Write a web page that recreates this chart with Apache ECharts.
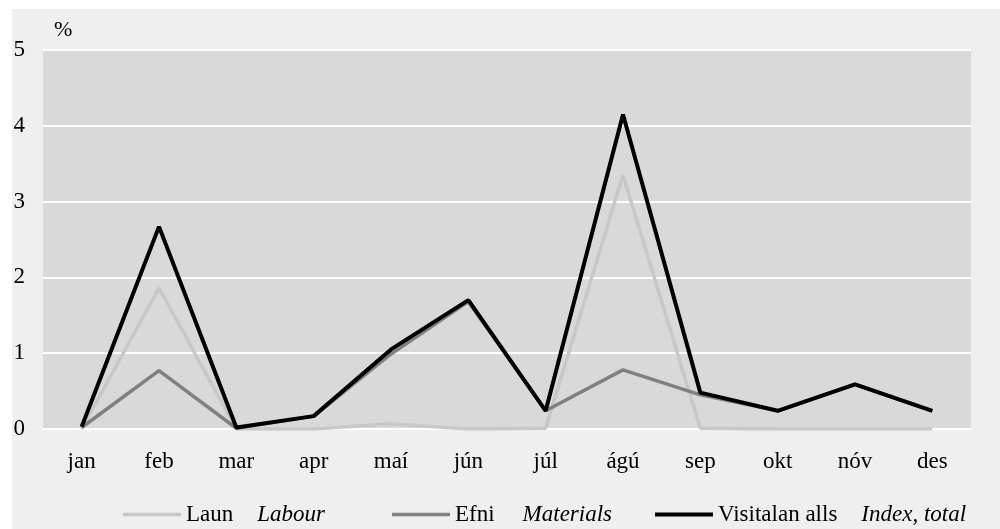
<!DOCTYPE html>
<html>
<head>
<meta charset="utf-8">
<script src="https://cdn.jsdelivr.net/npm/echarts@6/dist/echarts.min.js"></script>
<style>
html,body{margin:0;padding:0;background:#ffffff;}
#chart{position:absolute;left:12px;top:9px;width:988px;height:520px;}
</style>
</head>
<body>
<div id="chart"></div>
<script>
const months = ['jan','feb','mar','apr','maí','jún','júl','ágú','sep','okt','nóv','des'];
const labour = [0.0, 1.86, 0.0, 0.0, 0.07, 0.0, 0.01, 3.35, 0.01, 0.0, 0.0, 0.0];
const materials = [0.02, 0.77, 0.01, 0.17, 0.99, 1.68, 0.24, 0.78, 0.45, 0.24, 0.59, 0.24];
const total = [0.03, 2.67, 0.02, 0.17, 1.05, 1.70, 0.24, 4.15, 0.48, 0.24, 0.59, 0.24];
const yTicks = [0, 1, 2, 3, 4, 5];
const seriesNames = ['Laun', 'Efni', 'Visitalan alls'];
const seriesEnglish = ['Labour', 'Materials', 'Index, total'];
const seriesColors = ['#c8c8c8', '#808080', '#000000'];
const unitLabel = '%';

const FONT = '"Liberation Serif", "DejaVu Serif", serif';
const FS = 23;
const chart = echarts.init(document.getElementById('chart'));

function legendFor(i, left, pad) {
  return {
    data: [{ name: seriesNames[i], icon: 'rect', itemStyle: { color: seriesColors[i] } }],
    left: left,
    top: 489,
    itemWidth: 58,
    itemHeight: i === 2 ? 4 : 3.5,
    itemGap: 0,
    textStyle: {
      fontFamily: FONT, fontSize: FS, color: '#000',
      rich: {
        a: { fontFamily: FONT, fontSize: FS, color: '#000' },
        b: { fontFamily: FONT, fontSize: FS, color: '#000', fontStyle: 'italic', padding: [0, 0, 0, pad] }
      }
    },
    formatter: function (name) {
      const k = seriesNames.indexOf(name);
      return '{a|' + name + '}{b|' + seriesEnglish[k] + '}';
    }
  };
}

chart.setOption({
  backgroundColor: '#efefef',
  animation: false,
  title: {
    text: unitLabel,
    left: 37,
    top: 5,
    textStyle: { fontFamily: FONT, fontSize: 22, fontWeight: 'normal', color: '#000' }
  },
  legend: [legendFor(0, 106, 24), legendFor(1, 375, 28), legendFor(2, 638, 24)],
  grid: {
    left: 31, right: 29, top: 41, bottom: 100,
    outerBoundsMode: 'none',
    containLabel: false,
    show: true, backgroundColor: '#d9d9d9', borderWidth: 0
  },
  xAxis: {
    type: 'category',
    data: months,
    boundaryGap: true,
    axisLine: { show: true, lineStyle: { color: '#ffffff', width: 2 } },
    axisTick: { show: false },
    axisLabel: { fontFamily: FONT, fontSize: FS, color: '#000', margin: 21 }
  },
  yAxis: {
    type: 'value',
    min: yTicks[0],
    max: yTicks[yTicks.length - 1],
    interval: 1,
    axisLine: { show: false },
    axisTick: { show: false },
    splitLine: { show: true, lineStyle: { color: '#ffffff', width: 2 } },
    axisLabel: { fontFamily: FONT, fontSize: FS, color: '#000', margin: 18 }
  },
  series: [
    { name: seriesNames[0], type: 'line', data: labour, symbol: 'none', z: 2,
      lineStyle: { color: seriesColors[0], width: 3.5 }, itemStyle: { color: seriesColors[0] } },
    { name: seriesNames[1], type: 'line', data: materials, symbol: 'none', z: 3,
      lineStyle: { color: seriesColors[1], width: 3.5 }, itemStyle: { color: seriesColors[1] } },
    { name: seriesNames[2], type: 'line', data: total, symbol: 'none', z: 4,
      lineStyle: { color: seriesColors[2], width: 4 }, itemStyle: { color: seriesColors[2] } }
  ]
});
</script>
</body>
</html>
